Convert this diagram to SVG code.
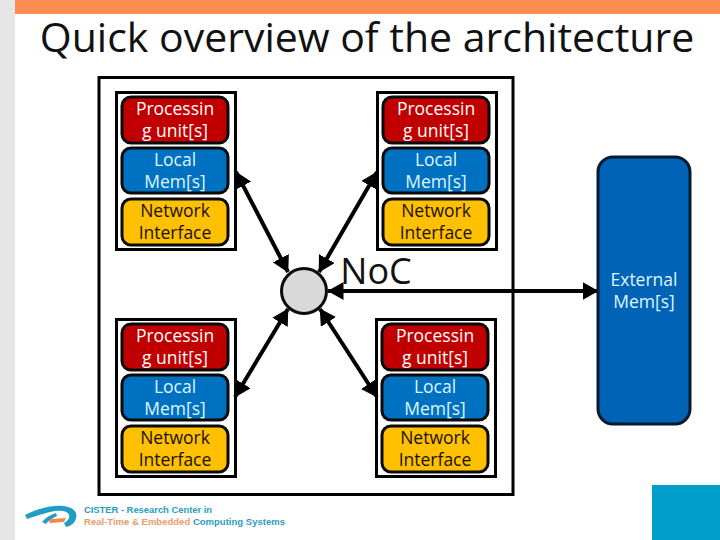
<svg xmlns="http://www.w3.org/2000/svg" width="720" height="540" viewBox="0 0 720 540">
<style>
text{font-family:"Open Sans","Noto Sans","DejaVu Sans",sans-serif;text-anchor:middle}
.t{font-size:17.500px}
.w{fill:#fff}.c{fill:#dff6ff}.k{fill:#1a1000}
.frame{fill:#fff;stroke:#000;stroke-width:3}
.box{stroke:#0a0a0a;stroke-width:3}
.pu{fill:#c00000}.lm{fill:#0070c0}.ni{fill:#ffc000}
.wire{stroke:#000;stroke-width:4;fill:none;marker-start:url(#a);marker-end:url(#a)}
.logo{font-family:"Liberation Sans",sans-serif;text-anchor:start;font-size:9.500px;font-weight:700;fill:#2a9dbf}
</style>
<defs>
<marker id="a" viewBox="0 0 16 18" refX="15.500" refY="9" markerWidth="16" markerHeight="18" markerUnits="userSpaceOnUse" orient="auto-start-reverse"><path d="M0 0L16 9L0 18Z" fill="#000"/></marker>
</defs>
<rect width="720" height="540" fill="#fff"/>
<rect width="15" height="540" fill="#e6e6e6"/>
<rect x="15" width="705" height="14" fill="#fb8d52"/>
<rect x="652" y="485" width="68" height="55" fill="#009fc9"/>
<text x="367" y="52" font-size="41" fill="#111">Quick overview of the architecture</text>
<rect class="frame" x="99" y="77.500" width="414" height="417"/>
<g id="cpu-tl">
<rect class="frame" x="116.500" y="92.500" width="119" height="157"/>
<rect class="box pu" x="122" y="97" width="106" height="46" rx="9"/><text class="t w" x="175" y="115">Processin<tspan x="175" dy="22">g unit[s]</tspan></text>
<rect class="box lm" x="122" y="148" width="106" height="45" rx="9"/><text class="t c" x="175" y="166">Local<tspan x="175" dy="22">Mem[s]</tspan></text>
<rect class="box ni" x="122" y="199" width="106" height="46" rx="9"/><text class="t k" x="175" y="217">Network<tspan x="175" dy="22">Interface</tspan></text>
</g>
<g id="cpu-tr">
<rect class="frame" x="377.500" y="92.500" width="119" height="157"/>
<rect class="box pu" x="383" y="97" width="106" height="46" rx="9"/><text class="t w" x="436" y="115">Processin<tspan x="436" dy="22">g unit[s]</tspan></text>
<rect class="box lm" x="383" y="148" width="106" height="45" rx="9"/><text class="t c" x="436" y="166">Local<tspan x="436" dy="22">Mem[s]</tspan></text>
<rect class="box ni" x="383" y="199" width="106" height="46" rx="9"/><text class="t k" x="436" y="217">Network<tspan x="436" dy="22">Interface</tspan></text>
</g>
<g id="cpu-bl">
<rect class="frame" x="116.500" y="319.500" width="119" height="157"/>
<rect class="box pu" x="122" y="324" width="106" height="46" rx="9"/><text class="t w" x="175" y="342">Processin<tspan x="175" dy="22">g unit[s]</tspan></text>
<rect class="box lm" x="122" y="375" width="106" height="45" rx="9"/><text class="t c" x="175" y="393">Local<tspan x="175" dy="22">Mem[s]</tspan></text>
<rect class="box ni" x="122" y="426" width="106" height="46" rx="9"/><text class="t k" x="175" y="444">Network<tspan x="175" dy="22">Interface</tspan></text>
</g>
<g id="cpu-br">
<rect class="frame" x="376.500" y="319.500" width="119" height="157"/>
<rect class="box pu" x="382" y="324" width="106" height="46" rx="9"/><text class="t w" x="435" y="342">Processin<tspan x="435" dy="22">g unit[s]</tspan></text>
<rect class="box lm" x="382" y="375" width="106" height="45" rx="9"/><text class="t c" x="435" y="393">Local<tspan x="435" dy="22">Mem[s]</tspan></text>
<rect class="box ni" x="382" y="426" width="106" height="46" rx="9"/><text class="t k" x="435" y="444">Network<tspan x="435" dy="22">Interface</tspan></text>
</g>
<g id="connectors">
<line class="wire" x1="236" y1="172" x2="288" y2="272"/>
<line class="wire" x1="377" y1="172" x2="319" y2="272"/>
<line class="wire" x1="235" y1="397" x2="288" y2="309"/>
<line class="wire" x1="377" y1="397" x2="320" y2="309"/>
<line class="wire" x1="328" y1="291" x2="598" y2="291"/>
</g>
<g id="noc">
<circle cx="304" cy="291" r="22.500" fill="#d9d9d9" stroke="#0a0a0a" stroke-width="3"/>
<text x="376" y="284" font-size="36" fill="#111">NoC</text>
</g>
<g id="external">
<rect x="598" y="157" width="92" height="267" rx="15" fill="#0063b5" stroke="#061a30" stroke-width="3"/>
<text class="t c" x="644" y="286">External<tspan x="644" dy="22">Mem[s]</tspan></text>
</g>
<g id="logo">
<path d="M25 515C36 509 52 505 63 506C73 507 78 512 76 518C75 523 71 526 66 527L64 523C68 521 70 518 69 515C67 510 58 510 50 512C42 514 33 517 27 519Z" fill="#1f9ec4"/>
<path d="M42 522C45 518 50 515 56 513L57 516C52 518 48 521 46 524Z" fill="#1f9ec4"/>
<path d="M50 519L66 518L64 522L49 523Z" fill="#f08a4b"/>
<text class="logo" x="84" y="513" textLength="128">CISTER - Research Center in</text>
<text class="logo" x="84" y="525" textLength="201"><tspan fill="#ee9a68">Real-Time &amp; Embedded</tspan> Computing Systems</text>
</g>
</svg>
